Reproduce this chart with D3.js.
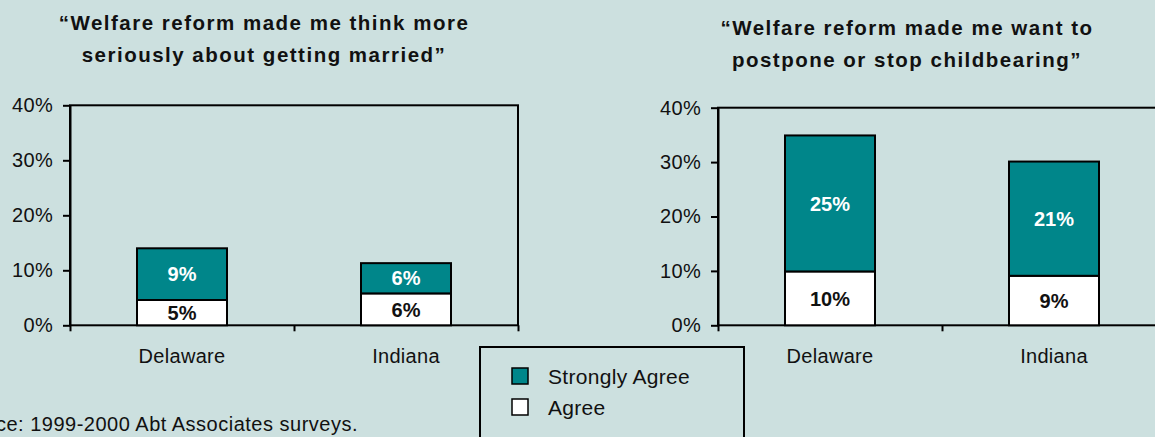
<!DOCTYPE html>
<html>
<head>
<meta charset="utf-8">
<style>
  body { margin: 0; background: #cce0df; }
  svg { display: block; font-family: "Liberation Sans", Arial, sans-serif; }
  .axis text { font-size: 20px; fill: #111; letter-spacing: 0.3px; }
  .axis path, .axis line { stroke: #000; stroke-width: 2px; }
  .title { font-size: 20.5px; font-weight: bold; fill: #111; letter-spacing: 1.5px; }
  .val { font-size: 20px; font-weight: bold; }
</style>
</head>
<body>
<svg width="1155" height="437"></svg>
<script src="https://d3js.org/d3.v7.min.js"></script>
<script>

var states = ["Delaware", "Indiana"];
var yTicks = [0, 10, 20, 30, 40];

// left panel: getting married
var marryAgree = [4.6, 5.8];
var marryStrong = [9.4, 5.5];
var marryAgreeLbl = ["5%", "6%"];
var marryStrongLbl = ["9%", "6%"];

// right panel: childbearing
var childAgree = [9.9, 9.1];
var childStrong = [25.0, 21.0];
var childAgreeLbl = ["10%", "9%"];
var childStrongLbl = ["25%", "21%"];

var seriesNames = ["Strongly Agree", "Agree"];
var teal = "#00868a";

var svg = d3.select("svg");

function panel(opt) {
  var x = d3.scaleBand().domain(states).range([opt.x0, opt.x1]).paddingInner(0.6).paddingOuter(0.3);
  var y = d3.scaleLinear().domain([0, 40]).range([opt.yb, opt.yt]);
  var xt = d3.scaleLinear().domain([0, 2]).range([opt.x0, opt.x1]);
  var g = svg.append("g");

  // frame
  g.append("rect")
      .attr("x", opt.x0).attr("y", opt.yt)
      .attr("width", opt.x1 - opt.x0).attr("height", opt.yb - opt.yt)
      .attr("fill", "none").attr("stroke", "#000").attr("stroke-width", 2);

  var data = states.map(function(s, i) {
    return { s: s, a: opt.agree[i], st: opt.strong[i], la: opt.agreeLbl[i], ls: opt.strongLbl[i] };
  });

  var bw = 90;
  var bars = g.selectAll(".bar").data(data).enter().append("g");
  bars.append("rect")
      .attr("x", function(d) { return x(d.s) + x.bandwidth() / 2 - bw / 2; })
      .attr("y", function(d) { return y(d.a); })
      .attr("width", bw)
      .attr("height", function(d) { return y(0) - y(d.a); })
      .attr("fill", "#fff").attr("stroke", "#000").attr("stroke-width", 2);
  bars.append("rect")
      .attr("x", function(d) { return x(d.s) + x.bandwidth() / 2 - bw / 2; })
      .attr("y", function(d) { return y(d.a + d.st); })
      .attr("width", bw)
      .attr("height", function(d) { return y(d.a) - y(d.a + d.st); })
      .attr("fill", teal).attr("stroke", "#000").attr("stroke-width", 2);
  bars.append("text").attr("class", "val")
      .attr("x", function(d) { return x(d.s) + x.bandwidth() / 2; })
      .attr("y", function(d) { return (y(0) + y(d.a)) / 2; })
      .attr("dy", "0.36em").attr("text-anchor", "middle").attr("fill", "#111")
      .text(function(d) { return d.la; });
  bars.append("text").attr("class", "val")
      .attr("x", function(d) { return x(d.s) + x.bandwidth() / 2; })
      .attr("y", function(d) { return (y(d.a) + y(d.a + d.st)) / 2; })
      .attr("dy", "0.36em").attr("text-anchor", "middle").attr("fill", "#fff")
      .text(function(d) { return d.ls; });

  // y axis
  var ya = g.append("g").attr("class", "axis")
      .attr("transform", "translate(" + opt.x0 + ",0)")
      .call(d3.axisLeft(y).tickValues(yTicks).tickSize(7).tickSizeOuter(0)
        .tickFormat(function(d) { return d + "%"; }));
  ya.selectAll("text").attr("x", -17);

  // x axis ticks between categories
  g.append("g").attr("class", "axis")
      .attr("transform", "translate(0," + opt.yb + ")")
      .call(d3.axisBottom(xt).tickValues([0, 1, 2]).tickSize(6).tickSizeOuter(0).tickFormat(""))
      .select(".domain").remove();
  // category labels
  var xa = g.append("g").attr("class", "axis")
      .attr("transform", "translate(0," + opt.yb + ")")
      .call(d3.axisBottom(x).tickSize(0));
  xa.select(".domain").remove();
  xa.selectAll("text").attr("y", 24);

  // title
  g.append("text").attr("class", "title")
      .attr("text-anchor", "middle")
      .selectAll("tspan").data(opt.title).enter().append("tspan")
      .attr("x", opt.tx)
      .attr("y", function(d, i) { return opt.ty + i * 32; })
      .text(function(d) { return d; });
}

panel({
  x0: 70, x1: 518, yt: 105.3, yb: 325.3,
  agree: marryAgree, strong: marryStrong, agreeLbl: marryAgreeLbl, strongLbl: marryStrongLbl,
  title: ["\u201cWelfare reform made me think more", "seriously about getting married\u201d"],
  tx: 264, ty: 30
});

panel({
  x0: 718, x1: 1166, yt: 107.7, yb: 325.3,
  agree: childAgree, strong: childStrong, agreeLbl: childAgreeLbl, strongLbl: childStrongLbl,
  title: ["\u201cWelfare reform made me want to", "postpone or stop childbearing\u201d"],
  tx: 907, ty: 35
});

// legend
var lg = svg.append("g");
lg.append("rect")
    .attr("x", 480).attr("y", 347).attr("width", 264).attr("height", 120)
    .attr("fill", "none").attr("stroke", "#000").attr("stroke-width", 2);
var items = lg.selectAll(".li").data(seriesNames).enter().append("g")
    .attr("transform", function(d, i) { return "translate(512," + (368 + i * 31) + ")"; });
items.append("rect")
    .attr("width", 16).attr("height", 16)
    .attr("fill", function(d, i) { return i === 0 ? teal : "#fff"; })
    .attr("stroke", "#000").attr("stroke-width", 1.5);
items.append("text")
    .attr("x", 36).attr("y", 8).attr("dy", "0.36em")
    .style("font-size", "21px").style("letter-spacing", "0.3px").attr("fill", "#111")
    .text(function(d) { return d; });

// source note (cut off at left edge, as in the original)
svg.append("text")
    .attr("x", 358).attr("y", 431).attr("text-anchor", "end")
    .style("font-size", "20px").style("letter-spacing", "0.5px").attr("fill", "#111")
    .text("Source: 1999-2000 Abt Associates surveys.");

</script>
</body>
</html>
